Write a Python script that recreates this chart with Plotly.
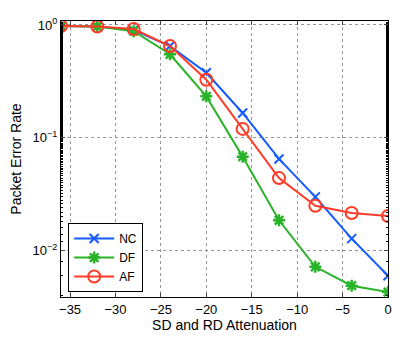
import plotly.graph_objects as go

# attenuation (dB) and packet error rates
atten = [-36, -32, -28, -24, -20, -16, -12, -8, -4, 0]
per_nc = [0.98, 0.97, 0.90, 0.65, 0.377, 0.166, 0.065, 0.030, 0.0128, 0.0060]
per_df = [0.98, 0.97, 0.88, 0.55, 0.233, 0.068, 0.0186, 0.0072, 0.0049, 0.0043]
per_af = [0.98, 0.97, 0.92, 0.65, 0.327, 0.120, 0.044, 0.025, 0.0216, 0.0203]

x_ticks = [-35, -30, -25, -20, -15, -10, -5, 0]
x_ticktext = ["−35", "−30", "−25", "−20", "−15", "−10", "−5", "0"]
y_ticks = [1, 0.1, 0.01]
y_ticktext = ["10<sup>0</sup>", "10<sup>−1</sup>", "10<sup>−2</sup>"]

fig = go.Figure()
fig.add_trace(go.Scatter(x=atten, y=per_nc, name="NC", mode="lines+markers",
                         line=dict(color="rgb(20,90,255)", width=2),
                         marker=dict(symbol="x-thin-open", size=9,
                                     line=dict(width=2, color="rgb(20,90,255)"))))
fig.add_trace(go.Scatter(x=atten, y=per_df, name="DF", mode="lines+markers",
                         line=dict(color="rgb(40,180,40)", width=2),
                         marker=dict(symbol="asterisk-open", size=10,
                                     line=dict(width=2.5, color="rgb(40,180,40)"))))
fig.add_trace(go.Scatter(x=atten, y=per_af, name="AF", mode="lines+markers",
                         line=dict(color="rgb(255,60,40)", width=2),
                         marker=dict(symbol="circle-open", size=12,
                                     line=dict(width=2, color="rgb(255,60,40)"))))

fig.update_xaxes(range=[-36, 0], tickvals=x_ticks, ticktext=x_ticktext,
                 ticks="inside", ticklen=4, mirror="allticks",
                 showline=True, linecolor="black", linewidth=1,
                 showgrid=True, gridcolor="rgb(150,150,150)", griddash="dot", gridwidth=1,
                 zeroline=False, tickfont=dict(size=13),
                 title=dict(text="SD and RD Attenuation", standoff=3, font=dict(size=14)))
fig.update_yaxes(type="log", range=[-2.41, 0.035], tickvals=y_ticks, ticktext=y_ticktext,
                 ticks="inside", ticklen=4, mirror="allticks",
                 showline=True, linecolor="black", linewidth=1,
                 showgrid=True, gridcolor="rgb(150,150,150)", griddash="dot", gridwidth=1,
                 minor=dict(ticks="inside", ticklen=2, showgrid=False, tickcolor="black"),
                 zeroline=False, tickfont=dict(size=13),
                 title=dict(text="Packet Error Rate", standoff=7, font=dict(size=14)))

# the page body has an 8px margin, so the figure is shrunk by that much
fig.update_layout(
    width=394, height=329,
    margin=dict(l=47, r=14, t=8, b=39),
    paper_bgcolor="white", plot_bgcolor="white",
    font=dict(family="Liberation Sans, Arial, sans-serif", size=12, color="black"),
    legend=dict(x=0.022, y=0.018, xanchor="left", yanchor="bottom",
                bgcolor="white", bordercolor="black", borderwidth=1,
                font=dict(size=12), itemwidth=40, tracegroupgap=0),
)

fig.write_html("out.html")
